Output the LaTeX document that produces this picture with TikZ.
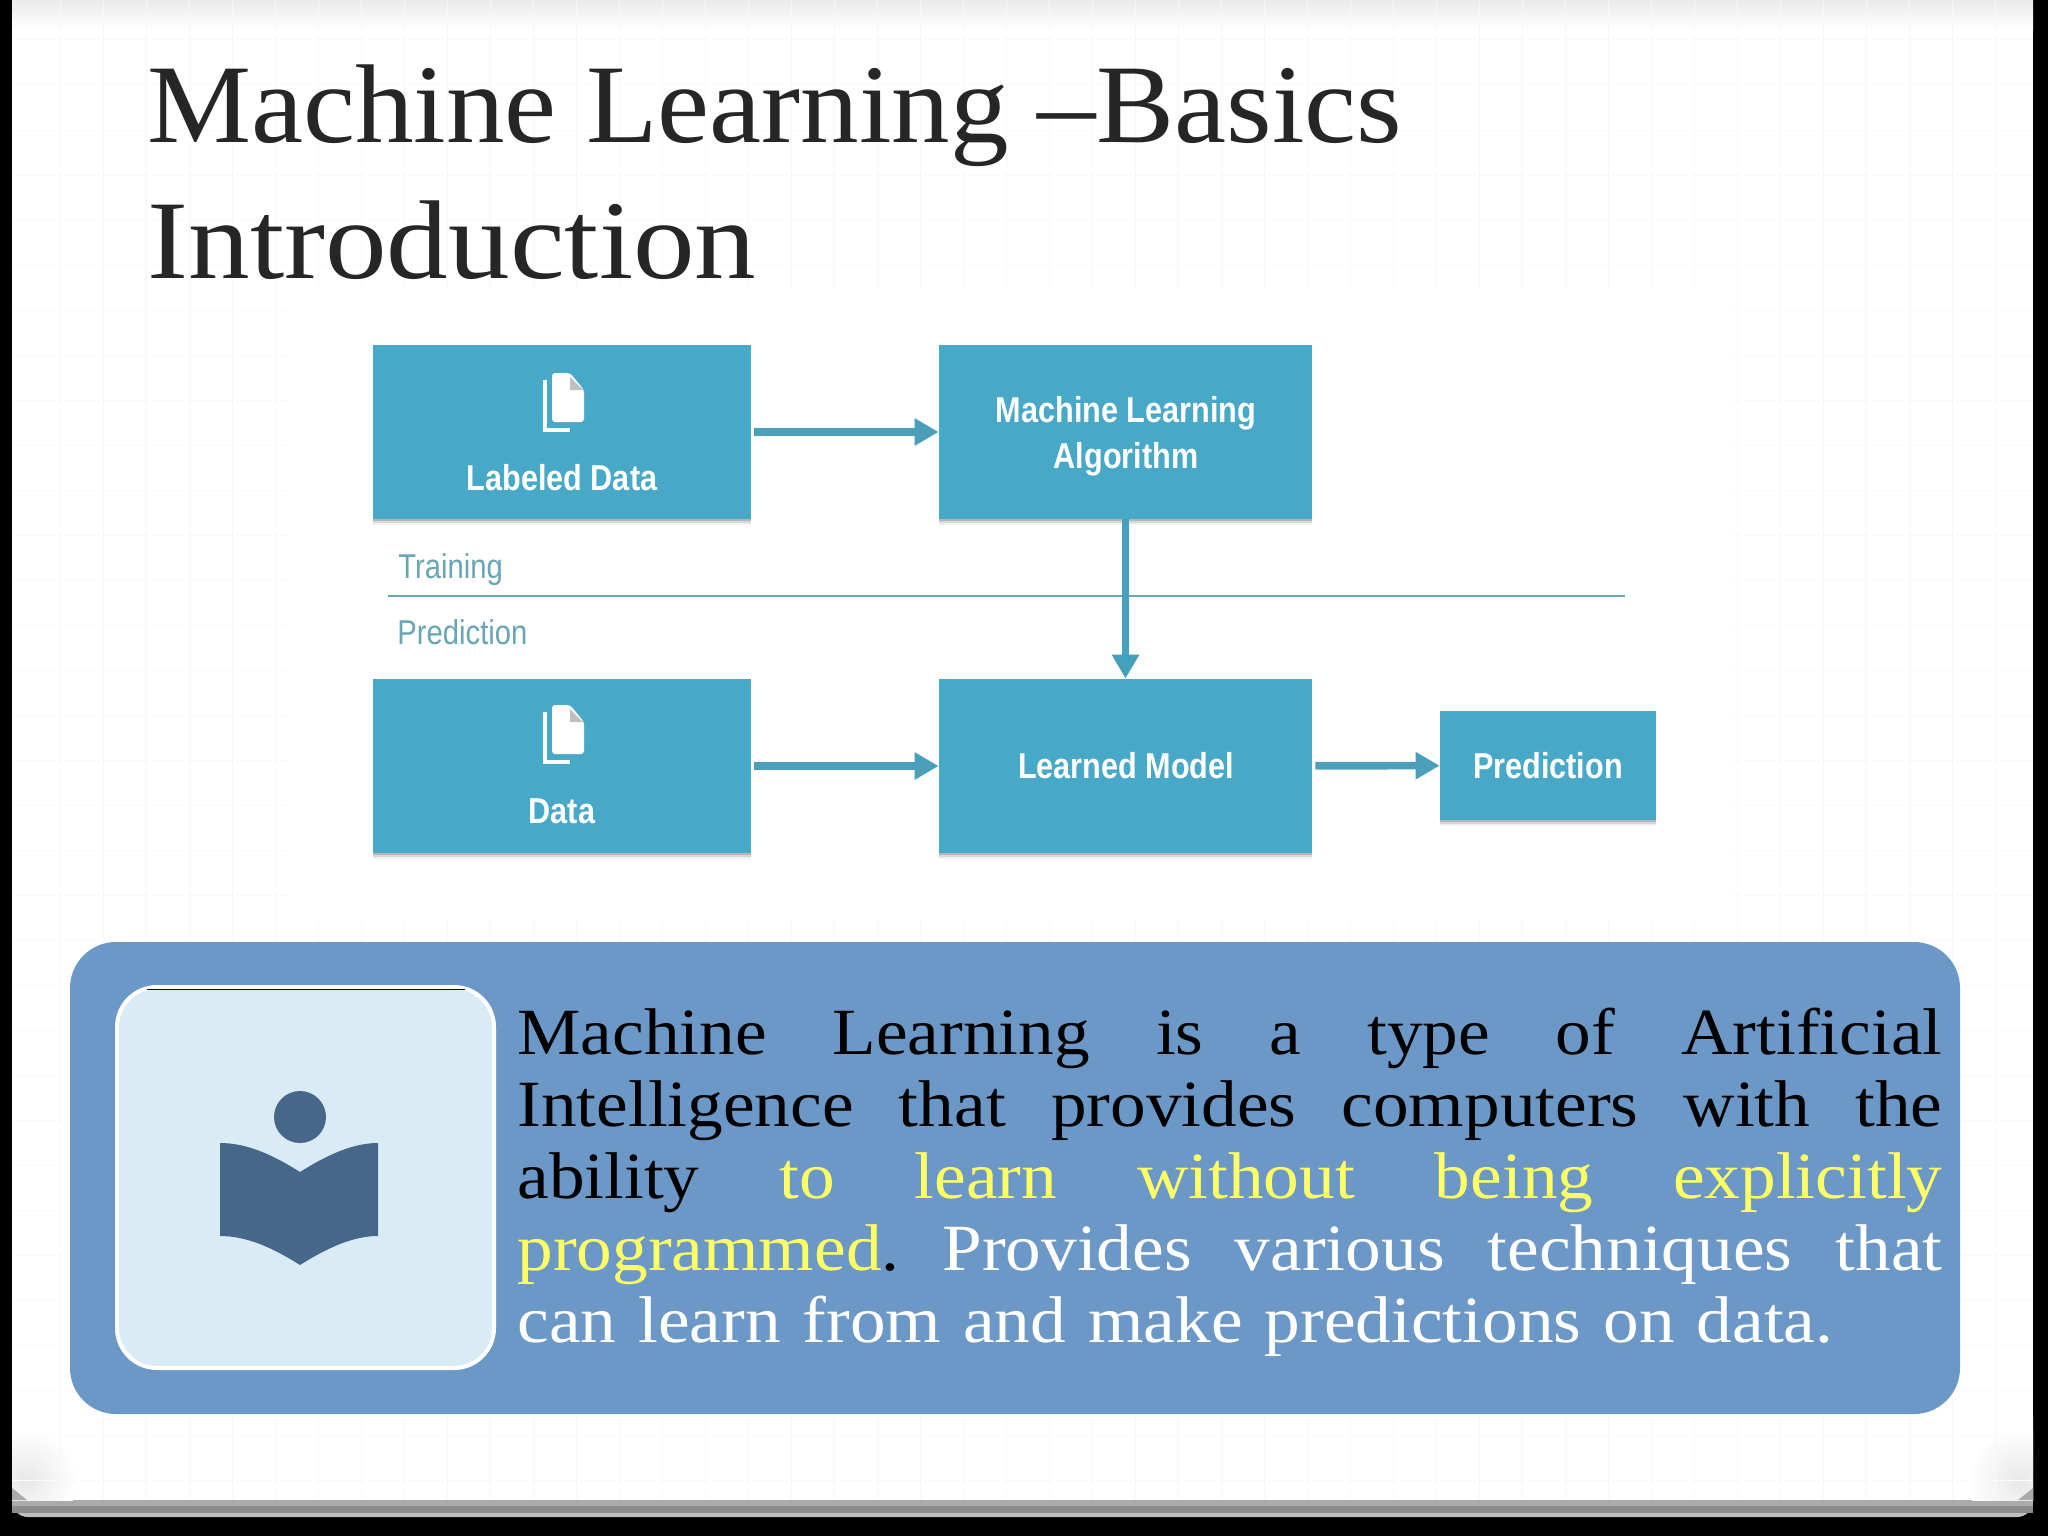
\documentclass[tikz,border=0pt]{standalone}
\usepackage{fontspec}
\usetikzlibrary{arrows.meta,shadows}
\setmainfont[FakeStretch=1.08]{Liberation Serif}
\newfontfamily\titlefont[FakeStretch=1.045]{Liberation Serif}
\newfontfamily\introfont[FakeStretch=1.1]{Liberation Serif}
\newfontfamily\boxfont[FakeStretch=0.85]{Liberation Sans}
\newcommand{\fullline}[1]{\hbox to 712.5pt{\spaceskip=0.25em plus 1fil\relax #1\unskip}}
\definecolor{boxteal}{HTML}{47A8C7}
\definecolor{arrowteal}{HTML}{4C9FBA}
\definecolor{ruleteal}{HTML}{6AA5B3}
\definecolor{panelblue}{HTML}{6C98C8}
\definecolor{iconpale}{HTML}{D9ECF5}
\definecolor{bookblue}{HTML}{466789}
\definecolor{titlegray}{HTML}{262626}
\definecolor{hiyellow}{HTML}{FFFF66}
\begin{document}
\begin{tikzpicture}[x=0.5pt,y=-0.5pt]
\tikzstyle{mlbox} = [rectangle, inner sep=0pt, fill=boxteal, general shadow={shadow xshift=0pt, shadow yshift=-3pt, fill=black, opacity=0.06}, general shadow={shadow xshift=0pt, shadow yshift=-1.8pt, fill=black, opacity=0.1}, general shadow={shadow xshift=0pt, shadow yshift=-0.8pt, fill=black, opacity=0.15}]
\tikzstyle{boxtext} = [inner sep=0pt, text=white, align=center, font=\boxfont\bfseries\fontsize{18}{22.9}\selectfont]
\tikzstyle{sidetext} = [inner sep=0pt, anchor=west, text=ruleteal, font=\boxfont\fontsize{17.2}{20}\selectfont]
\tikzstyle{arrow} = [arrowteal, line width=3.8pt, -{Stealth[length=12pt, width=13pt, inset=0pt]}]

% slide
\useasboundingbox (0,0) rectangle (2048,1536);
\fill [black] (0,0) rectangle (2048,1536);
\fill [black!25, rounded corners=8pt] (12,1400) rectangle (2033,1517);
\fill [black!45] (12,1400) rectangle (2033,1513);
\fill [black!33] (12,1400) rectangle (2033,1506);
\fill [white] (12,0) rectangle (2033,1500);
\shade [top color=black!8, bottom color=white] (12,0) rectangle (2033,30);
\begin{scope}
\clip (12,0) rectangle (2033,1500);
\shade [inner color=black!9, outer color=white] (25,1480) circle (26pt);
\shade [inner color=black!9, outer color=white] (2020,1480) circle (26pt);
\end{scope}
\fill [black!33] (12,1488) -- (27,1500) -- (12,1500) -- cycle;
\fill [black!33] (2033,1488) -- (2018,1500) -- (2033,1500) -- cycle;
\foreach \xpos in {60,103,...,2020} \draw [black!3, line width=0.5pt] (\xpos,0) -- (\xpos,1500);
\foreach \ypos in {40,85,...,1500} \draw [black!2, line width=0.5pt] (12,\ypos) -- (2033,\ypos);

% title
\node (title) [anchor=base west, inner sep=0pt, align=left, text=titlegray, font=\fontsize{56}{68}\selectfont] at (147,278) {\titlefont Machine Learning –Basics\\\introfont Introduction};

% diagram
\fill [white] (290,290) rectangle (1730,920);
\draw [ruleteal, line width=1pt] (388,595.5) -- (1625,595.5);
\node (labeled) [mlbox, minimum width=188.7pt, minimum height=87pt] at (562,432) {};
\node (algo) [mlbox, minimum width=186.5pt, minimum height=87pt] at (1125.5,432) {};
\node (data) [mlbox, minimum width=188.7pt, minimum height=87pt] at (562,766) {};
\node (model) [mlbox, minimum width=186.5pt, minimum height=87pt] at (1125.5,766) {};
\node (pred) [mlbox, minimum width=108pt, minimum height=54.5pt] at (1548,765.5) {};

\node (labeledtxt) [boxtext] at (562,478) {Labeled Data};
\node (datatxt) [boxtext] at (562,811) {Data};
\node (algotxt) [boxtext] at (1126,436) {Machine Learning\\Algorithm};
\node (modeltxt) [boxtext] at (1126,766) {Learned Model};
\node (predtxt) [boxtext] at (1548,766) {Prediction};
\node (training) [sidetext] at (398,570) {Training};
\node (prediction) [sidetext] at (397,632) {Prediction};

% document icons
\foreach \ypos in {0,332} {
\begin{scope}[yshift=-\ypos*0.5pt]
\fill [white, rounded corners=1.5pt] (552,373) -- (570,373) -- (584,390) -- (584,422) -- (552,422) -- cycle;
\fill [black!25] (570,377) -- (570,390) -- (583,390) -- cycle;
\draw [white, line width=2pt] (545,380) -- (545,430) -- (570,430);
\end{scope}
}

\draw [arrow, shorten <=1.5pt] (labeled) -- (algo);
\draw [arrow, shorten <=1.5pt] (data) -- (model);
\draw [arrow, shorten <=1.5pt] (model) -- (pred);
\draw [arrow, line width=3.4pt, boxteal!95!black] (algo) -- (model);

% panel
\node (panel) [rectangle, rounded corners=23pt, inner sep=0pt, fill=panelblue, minimum width=945pt, minimum height=236pt] at (1015,1178) {};
\node (iconbox) [rectangle, rounded corners=20pt, inner sep=0pt, draw=white, line width=2pt, fill=iconpale, minimum width=188.5pt, minimum height=190.5pt] at (305.5,1177.5) {};
\draw [black!60!blue, line width=0.5pt] (147,989) -- (465,989);
\fill [bookblue] (300,1117) circle (13pt);
\fill [bookblue] (220,1143) .. controls (245,1143) and (270,1153) .. (300,1172) .. controls (330,1153) and (355,1143) .. (378,1143) -- (378,1236) .. controls (355,1236) and (330,1246) .. (300,1265) .. controls (270,1246) and (245,1236) .. (220,1236) -- cycle;

\node (body) [anchor=north west, inner sep=0pt, text width=712.5pt, font=\frenchspacing\fontsize{33}{36}\selectfont] at (517,1008) {%
\fullline{Machine Learning is a type of Artificial}
\fullline{Intelligence that provides computers with the}
\fullline{ability \textcolor{hiyellow}{to learn without being explicitly}}
\fullline{\textcolor{hiyellow}{programmed}. \textcolor{white}{Provides various techniques that}}
\textcolor{white}{can learn from and make predictions on data.}};
\end{tikzpicture}
\end{document}
